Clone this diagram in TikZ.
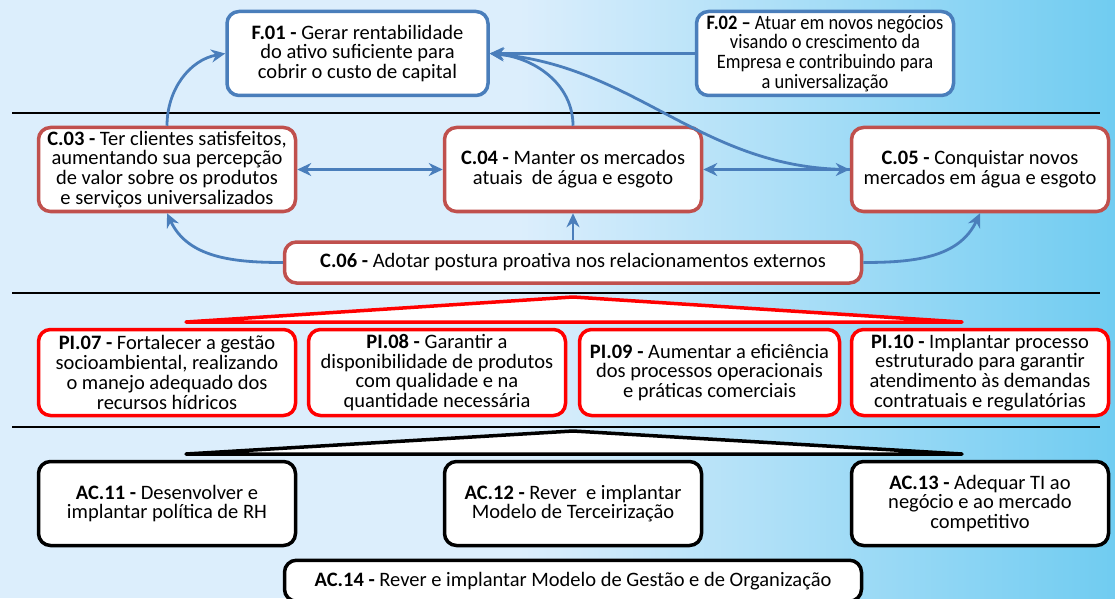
\documentclass[tikz,border=0pt]{standalone}
\usepackage{fontspec}
\setmainfont{Carlito}
\newfontfamily\narrowfont[FakeStretch=0.9]{Carlito}
\usetikzlibrary{arrows.meta}
\definecolor{goalblue}{RGB}{74,126,187}
\definecolor{goalred}{RGB}{192,80,77}
\definecolor{bgleft}{RGB}{220,238,252}
\definecolor{bgright}{RGB}{112,204,241}
\newcommand*{\boxw}{257pt}
\newcommand*{\boxh}{84pt}
\newcommand*{\barh}{41pt}

\begin{document}
\begin{tikzpicture}[x=1pt, y=1pt,
    arr/.tip={Stealth[length=14pt,width=13pt]},
    goal/.style={draw, fill=white, rounded corners=12pt, line width=3.5pt, align=center,
        minimum width=\boxw, minimum height=\boxh, inner sep=1pt,
        font=\fontsize{20.5}{19.8}\selectfont},
    fin/.style={goal, draw=goalblue},
    cli/.style={goal, draw=goalred},
    proc/.style={goal, draw=red},
    act/.style={goal, draw=black},
    link/.style={-arr, goalblue, line width=2.8pt},
    both/.style={link, arr-arr},
    layer/.style={line width=1.2pt},
    wedge/.style={fill=white, line width=3.5pt, line join=round, line cap=round}]
    \useasboundingbox (0,0) rectangle (1115,598);
    \clip (0,0) rectangle (1115,598);
    % background
    \fill[bgleft] (0,0) rectangle (520,598);
    \shade[left color=bgleft, right color=bgright] (519,0) rectangle (1115,598);
    % layer lines
    \draw[layer] (12,485) -- (1100,485);
    \draw[layer] (12,305) -- (1100,305);
    \draw[layer] (12,171) -- (1100,171);
    % wedges
    \draw[wedge, draw=red] (186,276) -- (573,301) -- (962,276) -- cycle;
    \draw[wedge, draw=black] (186,144) -- (573,167) -- (962,144) -- cycle;
    % financial row
    \node[fin, minimum width=261pt] (F01) at (357.5,544.5) {\textbf{F.01 -} Gerar rentabilidade\\do ativo suficiente para\\cobrir o custo de capital};
    \node[fin, font=\fontsize{20.5}{19.8}\narrowfont] (F02) at (825,544.5) {\textbf{F.02 –} Atuar em novos negócios\\visando o crescimento da\\Empresa e contribuindo para\\a universalização};
    % client row
    \node[cli] (C03) at (167,428.5) {\textbf{C.03 -} Ter clientes satisfeitos,\\aumentando sua percepção\\de valor sobre os produtos\\e serviços universalizados};
    \node[cli] (C04) at (573,428.5) {\textbf{C.04 -} Manter os mercados\\atuais \ de água e esgoto};
    \node[cli] (C05) at (980,428.5) {\textbf{C.05 -} Conquistar novos\\mercados em água e esgoto};
    \node[cli, minimum width=577pt, minimum height=\barh] (C06) at (573,335.5) {\textbf{C.06 -} Adotar postura proativa nos relacionamentos externos};
    % process row
    \node[proc, minimum height=86pt] (PI07) at (167,225.5) {\textbf{PI.07 -} Fortalecer a gestão\\socioambiental, realizando\\o manejo adequado dos\\recursos hídricos};
    \node[proc, minimum height=86pt] (PI08) at (437,225.5) {\textbf{PI.08 -} Garantir a\\disponibilidade de produtos\\com qualidade e na\\quantidade necessária};
    \node[proc, minimum height=86pt, minimum width=260pt] (PI09) at (709.5,225.5) {\textbf{PI.09 -} Aumentar a eficiência\\dos processos operacionais\\e práticas comerciais};
    \node[proc, minimum height=86pt] (PI10) at (980,225.5) {\textbf{PI.10 -} Implantar processo\\estruturado para garantir\\atendimento às demandas\\contratuais e regulatórias};
    % learning row
    \node[act] (AC11) at (167,94.5) {\textbf{AC.11 -} Desenvolver e\\implantar política de RH};
    \node[act] (AC12) at (573,94.5) {\textbf{AC.12 -} Rever \ e implantar\\Modelo de Terceirização};
    \node[act] (AC13) at (980,94.5) {\textbf{AC.13 -} Adequar TI ao\\negócio e ao mercado\\competitivo};
    \node[act, minimum width=577pt, minimum height=\barh, anchor=north] (AC14) at (573,39.5) {\textbf{AC.14 -} Rever e implantar Modelo de Gestão e de Organização};
    % links to F.01
    \draw[link] (C03.north) to[out=90,in=190] (F01.west);
    \draw[link] (C04.north) to[out=90,in=-5] (F01.east);
    \draw[link] (F02.west) -- (F01.east);
    \draw[link] (C05.west) to[out=180,in=-5] (F01.east);
    % links between clients
    \draw[both] (C03.east) -- (C04.west);
    \draw[both] (C04.east) -- (C05.west);
    % links from C.06
    \draw[link] (C06.west) to[out=180,in=-65] (C03.south);
    \draw[link] (C06.north) -- (C04.south);
    \draw[link] (C06.east) to[out=0,in=-115] (C05.south);
\end{tikzpicture}
\end{document}
